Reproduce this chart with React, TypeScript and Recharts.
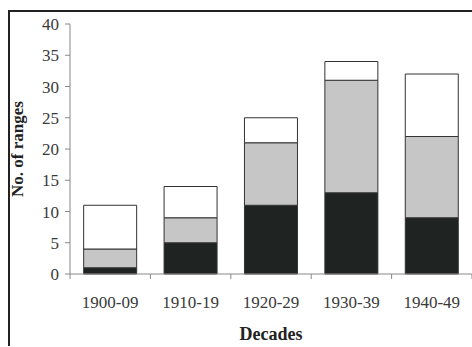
import React from "react";
import { BarChart, Bar, XAxis, YAxis } from "recharts";

const decades = ["1900-09", "1910-19", "1920-29", "1930-39", "1940-49"];
const darkPart = [1, 5, 11, 13, 9];
const greyPart = [3, 4, 10, 18, 13];
const whitePart = [7, 5, 4, 3, 10];
const yTicks = [0, 5, 10, 15, 20, 25, 30, 35, 40];

const data = decades.map((name, i) => ({
  name,
  dark: darkPart[i],
  grey: greyPart[i],
  white: whitePart[i],
}));

const W = 472;
const H = 347;
const PLOT_LEFT = 70;
const HALF_BAND = (W - PLOT_LEFT) / decades.length / 2;
const serif = "'Liberation Serif', 'DejaVu Serif', serif";

const DecadeTick = ({ x, y, payload, index }: any) => (
  <g>
    {index === 0 && (
      <line x1={x - HALF_BAND} y1={y} x2={x - HALF_BAND} y2={y + 5} stroke="#888" />
    )}
    <line x1={x + HALF_BAND} y1={y} x2={x + HALF_BAND} y2={y + 5} stroke="#888" />
    <text
      x={x}
      y={y}
      dy={34}
      textAnchor="middle"
      fill="#3a3a3a"
      fontFamily={serif}
      fontSize={17}
    >
      {payload.value}
    </text>
  </g>
);

const App: React.FC = () => {
  return (
    <div style={{ position: "absolute", left: 0, top: 0, width: W, height: H, background: "#fff", overflow: "hidden" }}>
      <div
        style={{
          position: "absolute",
          left: 8,
          top: 10,
          width: 500,
          height: 334,
          borderLeft: "2px solid #222",
          borderTop: "2px solid #222",
        }}
      />
      <div style={{ position: "absolute", left: 0, top: 0 }}>
        <BarChart
          width={W}
          height={H}
          data={data}
          margin={{ top: 24, right: 0, left: 10, bottom: 0 }}
          barCategoryGap="17%"
        >
          <YAxis
            type="number"
            domain={[0, 40]}
            ticks={yTicks}
            width={60}
            interval={0}
            axisLine={{ stroke: "#888" }}
            tickLine={{ stroke: "#888" }}
            tickSize={5}
            tickMargin={6}
            tick={{ fill: "#3a3a3a", fontFamily: serif, fontSize: 17 }}
            label={{
              value: "No. of ranges",
              angle: -90,
              position: "insideLeft",
              dx: 2,
              style: { textAnchor: "middle", fontFamily: serif, fontWeight: "bold", fontSize: 17, fill: "#222" },
            }}
          />
          <XAxis
            dataKey="name"
            height={73}
            axisLine={{ stroke: "#888" }}
            tickLine={false}
            tickSize={0}
            tickMargin={0}
            interval={0}
            tick={<DecadeTick />}
            label={{
              value: "Decades",
              position: "insideBottom",
              offset: 7,
              style: { fontFamily: serif, fontWeight: "bold", fontSize: 18, fill: "#222" },
            }}
          />
          <Bar dataKey="dark" stackId="a" fill="#1f2321" stroke="#333" strokeWidth={1} isAnimationActive={false} />
          <Bar dataKey="grey" stackId="a" fill="#c6c6c6" stroke="#333" strokeWidth={1} isAnimationActive={false} />
          <Bar dataKey="white" stackId="a" fill="#ffffff" stroke="#333" strokeWidth={1} isAnimationActive={false} />
        </BarChart>
      </div>
    </div>
  );
};

export default App;
